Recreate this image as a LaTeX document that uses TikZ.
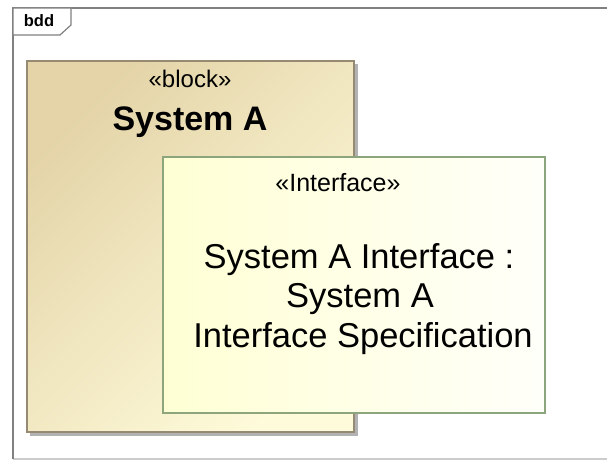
\documentclass[tikz,border=0pt]{standalone}
\usepackage{fontspec}
\setmainfont{Liberation Sans}
\begin{document}
\begin{tikzpicture}[x=1pt,y=-1pt,
  framerule/.style={draw=black!50,line width=1.6pt},
  blockbox/.style={draw=blockedge,line width=1.2pt,top color=blocktop,bottom color=blockbot,shading angle=45},
  ifacebox/.style={draw=ifaceedge,line width=1.2pt,left color=ifaceleft,right color=ifaceright},
  stereo/.style={anchor=base,font=\fontsize{24}{28}\selectfont,inner sep=0pt},
  title/.style={anchor=base,font=\fontsize{34.5}{40}\selectfont,inner sep=0pt}]
\definecolor{blocktop}{RGB}{228,212,168}
\definecolor{blockbot}{RGB}{254,251,218}
\definecolor{blockedge}{RGB}{150,138,115}
\definecolor{ifaceleft}{RGB}{255,255,212}
\definecolor{ifaceright}{RGB}{255,255,250}
\definecolor{ifaceedge}{RGB}{140,165,125}
\useasboundingbox (0,0) rectangle (607,460);
\fill[white] (0,0) rectangle (607,460);
% diagram frame and its tab
\draw[black!20,line width=1.2pt] (13,459) -- (607,459);
\draw[framerule] (13,459) -- (13,8) -- (607,8);
\draw[framerule,line width=1.2pt,fill=white] (13,8) -- (71,8) -- (71,25) -- (60,35) -- (13,35) -- cycle;
\node[font=\bfseries\fontsize{16.5}{19}\selectfont,inner sep=0pt,anchor=base] (tab) at (39,26.5) {bdd};
% block System A with its shadow
\fill[black!30] (30,64) rectangle (358,436);
\path[blockbox] (27,61) rectangle (354,432);
\node[stereo] (blockst) at (190,87) {«block»};
\node[title,font=\bfseries\fontsize{34}{40}\selectfont] (blockname) at (190,130) {System A};
% interface part
\path[ifacebox] (163,157) rectangle (545,413);
\node[stereo,font=\fontsize{25}{30}\selectfont] (ifst) at (338,191) {«Interface»};
\node[title] (if1) at (359,268) {System A Interface :};
\node[title] (if2) at (360,307) {System A};
\node[title] (if3) at (363,347) {Interface Specification};
\end{tikzpicture}
\end{document}
